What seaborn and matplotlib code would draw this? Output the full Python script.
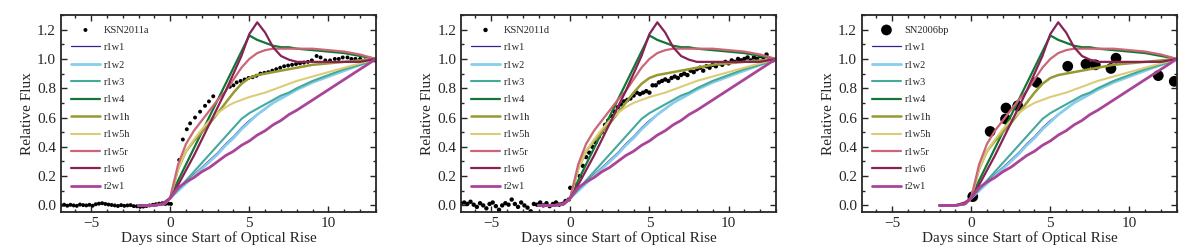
import numpy as np
import pandas as pd
import matplotlib
matplotlib.use("Agg")
import matplotlib.pyplot as plt
import seaborn as sns
from matplotlib.ticker import MultipleLocator

# Model light curves (same models in every panel)
model_x = [-2, -1, -0.4, 0, 0.5, 1, 1.5, 2, 2.5, 3, 3.5, 4, 4.5, 5, 5.5, 6, 6.5, 7, 7.5, 8, 9, 10, 11, 12, 13]

model_names = ['r1w1', 'r1w2', 'r1w3', 'r1w4', 'r1w1h', 'r1w5h', 'r1w5r', 'r1w6', 'r2w1']
model_colors = ['#332288', '#88CCEE', '#44AA99', '#117733', '#999933', '#DDCC77', '#CC6677', '#882255', '#AA4499']
model_widths = [0.9, 2.0, 1.5, 1.6, 1.8, 1.5, 1.6, 1.6, 2.0]

r1w1 = [0, 0, 0.01, 0.05, 0.11, 0.16, 0.21, 0.26, 0.31, 0.36, 0.42, 0.47, 0.53, 0.58, 0.62, 0.66, 0.70, 0.73, 0.76, 0.79, 0.84, 0.88, 0.92, 0.96, 1.0]
r1w2 = [0, 0, 0.01, 0.05, 0.10, 0.15, 0.20, 0.25, 0.30, 0.35, 0.41, 0.46, 0.52, 0.57, 0.62, 0.66, 0.70, 0.73, 0.76, 0.79, 0.84, 0.88, 0.92, 0.96, 1.0]
r1w3 = [0, 0, 0.01, 0.05, 0.11, 0.17, 0.23, 0.29, 0.35, 0.41, 0.47, 0.53, 0.59, 0.63, 0.66, 0.69, 0.72, 0.75, 0.77, 0.80, 0.85, 0.89, 0.93, 0.96, 1.0]
r1w4 = [0, 0, 0.01, 0.05, 0.17, 0.28, 0.39, 0.50, 0.61, 0.72, 0.83, 0.94, 1.05, 1.16, 1.13, 1.11, 1.09, 1.08, 1.08, 1.07, 1.06, 1.05, 1.04, 1.02, 1.0]
r1w1h = [0, 0, 0.01, 0.05, 0.25, 0.37, 0.44, 0.50, 0.56, 0.63, 0.70, 0.77, 0.83, 0.87, 0.89, 0.90, 0.91, 0.92, 0.93, 0.94, 0.96, 0.97, 0.98, 0.99, 1.0]
r1w5h = [0, 0, 0.01, 0.05, 0.25, 0.37, 0.45, 0.52, 0.58, 0.63, 0.67, 0.70, 0.72, 0.74, 0.755, 0.77, 0.79, 0.81, 0.83, 0.85, 0.88, 0.91, 0.94, 0.97, 1.0]
r1w5r = [0, 0, 0.01, 0.05, 0.28, 0.42, 0.51, 0.58, 0.65, 0.72, 0.78, 0.86, 0.94, 1.00, 1.04, 1.06, 1.07, 1.07, 1.07, 1.07, 1.07, 1.06, 1.05, 1.03, 1.0]
r1w6 = [0, 0, 0.02, 0.05, 0.14, 0.24, 0.34, 0.45, 0.56, 0.67, 0.78, 0.90, 1.02, 1.17, 1.25, 1.18, 1.08, 1.02, 0.995, 0.98, 0.98, 0.98, 0.98, 0.98, 1.0]
r2w1 = [0, 0, 0.01, 0.05, 0.12, 0.16, 0.19, 0.23, 0.26, 0.30, 0.34, 0.37, 0.41, 0.44, 0.48, 0.51, 0.55, 0.58, 0.62, 0.65, 0.72, 0.79, 0.86, 0.93, 1.0]
model_values = [r1w1, r1w2, r1w3, r1w4, r1w1h, r1w5h, r1w5r, r1w6, r2w1]

# KSN2011a
ksn11a_x = [-6.9, -6.7, -6.5, -6.3, -6.1, -5.9, -5.7, -5.5, -5.3, -5.1, -4.9, -4.7, -4.5, -4.3, -4.1,
            -3.9, -3.7, -3.5, -3.3, -3.1, -2.9, -2.7, -2.5, -2.3, -2.1, -1.9, -1.7, -1.5, -1.3, -1.1,
            -0.9, -0.7, -0.5, -0.3, -0.1,
            0.05, 0.57, 0.8, 1.05, 1.26, 1.57, 1.89, 2.2, 2.45, 2.72, 3.77, 4.0, 4.2, 4.45, 4.7,
            4.95, 5.2, 5.45, 5.7, 5.95, 6.2, 6.45, 6.7, 6.95, 7.2, 7.45, 7.7, 7.95, 8.2, 8.45,
            8.7, 8.95, 9.25, 9.5, 9.8, 10.1, 10.4, 10.65, 10.9, 11.2, 11.45, 11.7, 12.0, 12.3, 12.6, 12.9]
ksn11a_y = [0.0, 0.005, -0.002, 0.004, 0.0, -0.003, 0.006, 0.002, 0.0, 0.004, -0.002, 0.008, 0.012, 0.015, 0.01,
            0.006, 0.003, 0.0, -0.004, 0.002, -0.003, 0.0, 0.002, -0.005, -0.006, -0.01, -0.008, -0.004, 0.0, 0.004,
            0.008, 0.012, 0.015, 0.01, 0.012,
            0.01, 0.31, 0.45, 0.52, 0.56, 0.60, 0.64, 0.68, 0.71, 0.745, 0.81, 0.82, 0.84, 0.85, 0.86,
            0.87, 0.875, 0.885, 0.90, 0.905, 0.91, 0.92, 0.93, 0.94, 0.95, 0.955, 0.96, 0.965, 0.97, 0.975,
            0.98, 0.99, 1.02, 1.01, 0.99, 0.99, 1.0, 1.0, 1.01, 1.01, 1.0, 1.0, 1.0, 0.99, 0.99, 0.99]

# KSN2011d
ksn11d_x = [-6.9, -6.7, -6.5, -6.3, -6.1, -5.9, -5.7, -5.5, -5.3, -5.1, -4.9, -4.7, -4.5, -4.3, -4.1,
            -3.9, -3.7, -3.5, -3.3, -3.1, -2.9, -2.7, -2.5, -2.3, -2.1, -1.9, -1.7, -1.5, -1.3, -1.1,
            -0.9, -0.7, -0.5, -0.3, -0.1,
            0.0, 0.2, 0.4, 0.6, 0.8, 1.0, 1.2, 1.4, 1.6, 1.8, 2.0, 2.2, 2.4, 2.6, 2.8, 3.0, 3.2, 3.4, 3.6, 3.8,
            4.0, 4.2, 4.4, 4.6, 4.8, 5.0, 5.2, 5.4, 5.6, 5.8, 6.0, 6.2, 6.4, 6.6, 6.8, 7.0, 7.2, 7.4, 7.6, 7.8,
            8.0, 8.2, 8.4, 8.6, 8.8, 9.0, 9.2, 9.4, 9.6, 9.8, 10.0, 10.2, 10.4, 10.6, 10.8, 11.0, 11.2, 11.4,
            11.6, 11.8, 12.0, 12.2, 12.4, 12.6, 12.8]
ksn11d_y = [0.015, 0.02, 0.01, 0.025, 0.005, -0.01, 0.015, 0.0, -0.02, 0.01, 0.02, -0.005, -0.03, 0.0, 0.015,
            0.005, 0.04, 0.01, -0.01, 0.02, 0.0, -0.015, -0.04, 0.01, 0.005, 0.02, 0.0, 0.015, -0.005, 0.01,
            0.02, 0.005, 0.01, 0.03, 0.04,
            0.12, 0.09, 0.14, 0.20, 0.27, 0.33, 0.36, 0.40, 0.43, 0.47, 0.50, 0.55, 0.58, 0.61, 0.64, 0.67, 0.69, 0.71, 0.72, 0.73,
            0.75, 0.77, 0.76, 0.77, 0.78, 0.77, 0.82, 0.82, 0.84, 0.85, 0.86, 0.85, 0.87, 0.88, 0.87, 0.89, 0.90, 0.89, 0.92, 0.91,
            0.93, 0.94, 0.92, 0.95, 0.94, 0.96, 0.95, 0.97, 0.96, 0.98, 0.97, 0.99, 0.98, 1.0, 0.99, 1.0, 1.01, 0.99,
            1.01, 1.0, 1.02, 1.01, 1.03, 1.0, 0.99]

# SN2006bp
sn06bp_x = [0.1, 1.2, 2.17, 2.2, 2.94, 4.14, 6.1, 7.25, 7.84, 8.83, 9.15, 11.82, 12.83]
sn06bp_y = [0.06, 0.505, 0.59, 0.665, 0.68, 0.84, 0.95, 0.965, 0.96, 0.935, 1.005, 0.886, 0.847]

panels = [
    ('KSN2011a', ksn11a_x, ksn11a_y, 8),
    ('KSN2011d', ksn11d_x, ksn11d_y, 10),
    ('SN2006bp', sn06bp_x, sn06bp_y, 60),
]

sns.set_style("ticks")
plt.rcParams['font.family'] = ['Liberation Serif', 'DejaVu Serif']

fig = plt.figure(figsize=(12, 2.52), dpi=100)
lefts = [0.0508, 0.3842, 0.7183]

for left, (name, dx, dy, size) in zip(lefts, panels):
    ax = fig.add_axes([left, 0.1587, 0.2625, 0.7818])
    sns.scatterplot(x=dx, y=dy, ax=ax, color='black', s=size, edgecolor='none',
                    label=name, zorder=1)
    for mname, mcol, mw, mvals in zip(model_names, model_colors, model_widths, model_values):
        sns.lineplot(x=model_x, y=mvals, ax=ax, color=mcol, sort=False, estimator=None,
                     lw=mw, label=mname, zorder=2)
    ax.set_xlim(-6.9, 13)
    ax.set_ylim(-0.045, 1.3)
    ax.xaxis.set_major_locator(MultipleLocator(5))
    ax.xaxis.set_minor_locator(MultipleLocator(1))
    ax.yaxis.set_major_locator(MultipleLocator(0.2))
    ax.yaxis.set_minor_locator(MultipleLocator(0.1))
    ax.tick_params(which='both', direction='in', top=True, right=True, labelsize=11, width=1)
    ax.tick_params(which='major', length=4)
    ax.tick_params(which='minor', length=2)
    for sp in ax.spines.values():
        sp.set_linewidth(1.3)
    ax.set_xlabel('Days since Start of Optical Rise', fontsize=11, labelpad=1)
    ax.set_ylabel('Relative Flux', fontsize=11, labelpad=2)
    ax.legend(loc='upper left', frameon=False, fontsize=7.5, handlelength=2.7,
              handletextpad=0.4, labelspacing=0.78, borderaxespad=0.6)

fig.savefig('out.png', dpi=100)
